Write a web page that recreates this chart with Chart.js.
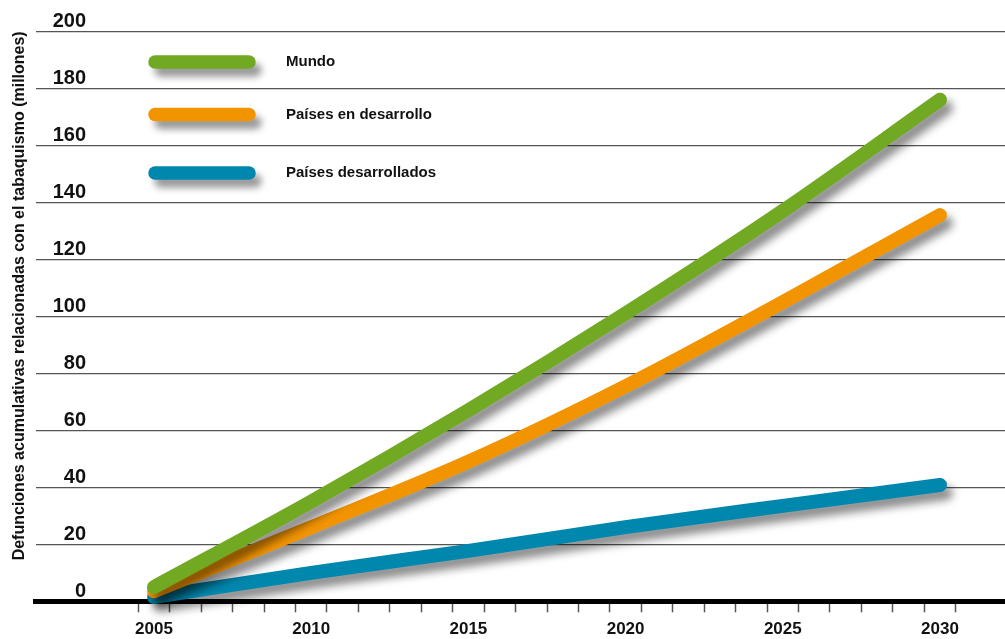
<!DOCTYPE html>
<html lang="es">
<head>
<meta charset="utf-8">
<title>Defunciones acumulativas relacionadas con el tabaquismo</title>
<script src="https://cdn.jsdelivr.net/npm/chart.js@4.4.1/dist/chart.umd.min.js"></script>
<style>
    html, body { margin: 0; padding: 0; background: #fff; }
    #wrap { width: 1005px; height: 639px; }
</style>
</head>
<body>
<div id="wrap"><canvas id="smokeChart" width="1005" height="639"></canvas></div>
<script>
// Datos (millones de defunciones acumuladas)
const years = [2005, 2010, 2015, 2020, 2025, 2030];
const mundo = [5, 35, 67, 101, 137, 176];
const enDesarrollo = [3.5, 26, 49, 75.5, 105, 135.5];
const desarrollados = [1.5, 10, 17.7, 26, 33.5, 40.8];
const seriesNames = ["Mundo", "Países en desarrollo", "Países desarrollados"];
const yearLabels = [2005, 2010, 2015, 2020, 2025, 2030];
const yTicks = [0, 20, 40, 60, 80, 100, 120, 140, 160, 180, 200];
const yTitle = "Defunciones acumulativas relacionadas con el tabaquismo (millones)";

const FONT = "'Liberation Sans', Arial, sans-serif";
const X_MIN = 2001.237;
const X_MAX = 2032.067;
// marcas pequeñas entre años (a medio año)
const tickMarks = [];
for (let y = 2004.5; y <= 2030.5; y++) tickMarks.push(y);

Chart.defaults.font.family = FONT;

function toPoints(values) {
    return years.map((x, i) => ({ x: x, y: values[i] }));
}

function lineDataset(label, values, color) {
    return {
        label: label,
        data: toPoints(values),
        borderColor: color,
        backgroundColor: color,
        borderWidth: 14,
        borderCapStyle: "round",
        borderJoinStyle: "round",
        cubicInterpolationMode: "monotone",
        pointRadius: 0,
        fill: false,
        clip: false,
    };
}

// sombra bajo cada linea
const shadowPlugin = {
    id: "lineShadow",
    beforeDatasetDraw(chart) {
        const ctx = chart.ctx;
        ctx.save();
        ctx.shadowColor = "rgba(0,0,0,0.45)";
        ctx.shadowBlur = 9;
        ctx.shadowOffsetX = 6;
        ctx.shadowOffsetY = 8;
    },
    afterDatasetDraw(chart) {
        chart.ctx.restore();
    },
};

// leyenda dentro del area del grafico
const legendPlugin = {
    id: "innerLegend",
    afterDatasetsDraw(chart, args, opts) {
        const ctx = chart.ctx;
        chart.data.datasets.forEach((ds, i) => {
            const y = opts.rows[i];
            ctx.save();
            ctx.shadowColor = "rgba(0,0,0,0.4)";
            ctx.shadowBlur = 7;
            ctx.shadowOffsetX = 6;
            ctx.shadowOffsetY = 8;
            ctx.strokeStyle = ds.borderColor;
            ctx.lineWidth = 13.5;
            ctx.lineCap = "round";
            ctx.beginPath();
            ctx.moveTo(opts.x1, y);
            ctx.lineTo(opts.x2, y);
            ctx.stroke();
            ctx.restore();

            ctx.save();
            ctx.fillStyle = "#111";
            ctx.font = "bold 15px " + FONT;
            ctx.textBaseline = "middle";
            ctx.textAlign = "left";
            ctx.fillText(ds.label, opts.textX, y);
            ctx.restore();
        });
    },
};

const ctx = document.getElementById("smokeChart").getContext("2d");
new Chart(ctx, {
    type: "line",
    data: {
        datasets: [
            lineDataset(seriesNames[0], mundo, "#72a922"),
            lineDataset(seriesNames[1], enDesarrollo, "#f29400"),
            lineDataset(seriesNames[2], desarrollados, "#0087ae"),
        ],
    },
    options: {
        responsive: false,
        animation: false,
        layout: { padding: { top: 31.3, left: 0, right: 0, bottom: 0 } },
        plugins: {
            legend: { display: false },
            tooltip: { enabled: false },
            innerLegend: { rows: [62, 114.5, 173], x1: 155, x2: 249, textX: 286 },
        },
        scales: {
            x: {
                type: "linear",
                position: "bottom",
                weight: 0,
                min: X_MIN,
                max: X_MAX,
                afterBuildTicks: (s) => { s.ticks = tickMarks.map((v) => ({ value: v })); },
                afterFit: (s) => { s.height = 12; },
                ticks: { display: false },
                grid: {
                    drawOnChartArea: false,
                    drawTicks: true,
                    tickLength: 11,
                    tickColor: "#555",
                    tickWidth: 1.5,
                },
                border: { display: true, color: "#000", width: 5 },
            },
            xYears: {
                type: "linear",
                position: "bottom",
                weight: 1,
                min: X_MIN,
                max: X_MAX,
                afterBuildTicks: (s) => { s.ticks = yearLabels.map((v) => ({ value: v })); },
                afterFit: (s) => { s.height = 25.7; },
                ticks: {
                    autoSkip: false,
                    maxRotation: 0,
                    padding: 5.5,
                    color: "#111",
                    font: { size: 17, weight: "bold" },
                    callback: (v) => String(v),
                },
                grid: { display: false, drawTicks: false },
                border: { display: false },
            },
            y: {
                min: 0,
                max: 200,
                afterBuildTicks: (s) => { s.ticks = yTicks.map((v) => ({ value: v })); },
                afterFit: (s) => { s.width = 35.7; },
                ticks: {
                    mirror: true,
                    crossAlign: "far",
                    padding: 17,
                    labelOffset: -10,
                    color: "#111",
                    font: { size: 20, weight: "bold" },
                },
                grid: { color: "#555", lineWidth: 1.3, drawTicks: false },
                border: { display: false },
                title: {
                    display: true,
                    text: yTitle,
                    align: "end",
                    color: "#111",
                    padding: { top: 10.4, bottom: 0 },
                    font: { size: 16, weight: "bold" },
                },
            },
        },
    },
    plugins: [shadowPlugin, legendPlugin],
});
</script>
</body>
</html>
